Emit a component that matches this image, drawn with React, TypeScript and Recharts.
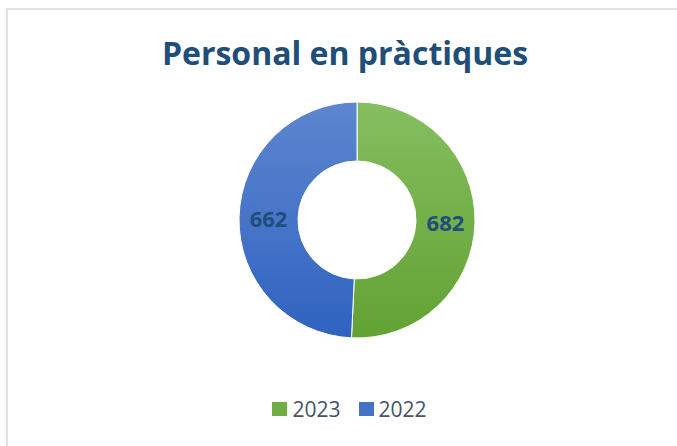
import React from 'react';
import { PieChart, Pie, Cell, Legend } from 'recharts';

const years = ['2023', '2022'];
const interns = [682, 662];
const colors = ['#6FAE45', '#4472C4'];

const data = years.map((year, i) => ({ name: year, value: interns[i] }));

const RADIAN = Math.PI / 180;

function renderLabel(props: any) {
  const { cx, cy, midAngle, innerRadius, outerRadius, value } = props;
  const r = (innerRadius + outerRadius) / 2;
  const x = cx + r * Math.cos(-midAngle * RADIAN);
  const y = cy + r * Math.sin(-midAngle * RADIAN);
  return (
    <text
      x={x}
      y={y}
      fill="#1F4E79"
      textAnchor="middle"
      dominantBaseline="central"
      fontFamily="'Open Sans', sans-serif"
      fontWeight={700}
      fontSize={22}
    >
      {value}
    </text>
  );
}

function LegendContent() {
  return (
    <div style={{ display: 'flex', justifyContent: 'center', fontFamily: "'Open Sans', sans-serif", fontSize: 21, lineHeight: '24px', color: '#44546A', paddingLeft: 22 }}>
      {data.map((d, i) => (
        <div key={d.name} style={{ display: 'flex', alignItems: 'center', marginRight: i === 0 ? 18 : 0 }}>
          <span style={{ display: 'inline-block', width: 15, height: 14, background: colors[i], marginRight: 5 }} />
          <span>{d.name}</span>
        </div>
      ))}
    </div>
  );
}

export default function App() {
  return (
    <div style={{ position: 'fixed', left: 0, top: 0, width: 677, height: 446, background: '#fff', overflow: 'hidden' }}>
      <div
        style={{
          position: 'absolute',
          left: 6,
          top: 8,
          width: 700,
          height: 460,
          borderTop: '2px solid #DEE3EA',
          borderLeft: '2px solid #DEE3EA',
        }}
      />
      <div
        style={{
          position: 'absolute',
          left: 0,
          top: 31,
          width: 690,
          textAlign: 'center',
          fontFamily: "'Open Sans', sans-serif",
          fontWeight: 700,
          fontSize: 32,
          lineHeight: '44px',
          color: '#1F4E79',
        }}
      >
        Personal en pràctiques
      </div>
      <div style={{ position: 'absolute', left: 0, top: 0 }}>
        <PieChart width={677} height={446} margin={{ top: 0, right: 0, bottom: 0, left: 0 }}>
          <defs>
            <linearGradient id="gGreen" x1="0" y1="0" x2="0" y2="1">
              <stop offset="0%" stopColor="#86BE60" />
              <stop offset="100%" stopColor="#62A233" />
            </linearGradient>
            <linearGradient id="gBlue" x1="0" y1="0" x2="0" y2="1">
              <stop offset="0%" stopColor="#5E86D0" />
              <stop offset="100%" stopColor="#2F63C0" />
            </linearGradient>
          </defs>
          <Pie
            data={data}
            dataKey="value"
            nameKey="name"
            cx={357}
            cy={220}
            innerRadius={59}
            outerRadius={118}
            startAngle={90}
            endAngle={-270}
            stroke="#fff"
            strokeWidth={1}
            label={renderLabel}
            labelLine={false}
            isAnimationActive={false}
          >
            {data.map((d, i) => (
              <Cell key={d.name} fill={i === 0 ? 'url(#gGreen)' : 'url(#gBlue)'} />
            ))}
          </Pie>
          <Legend
            content={<LegendContent />}
            verticalAlign="bottom"
            wrapperStyle={{ top: 397, left: 0, width: 677, bottom: 'auto' }}
          />
        </PieChart>
      </div>
    </div>
  );
}
